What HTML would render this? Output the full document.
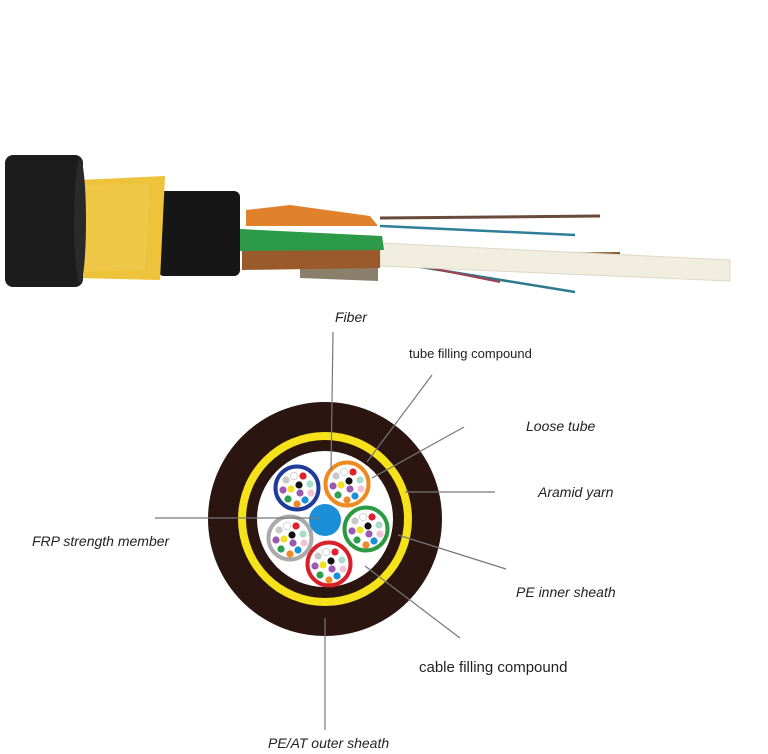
<!DOCTYPE html>
<html><head><style>
html,body{margin:0;padding:0;background:#fff;}
svg{display:block;}
.l{font-family:"Liberation Sans",sans-serif;font-style:italic;font-size:14px;fill:#222;}
.n{font-family:"Liberation Sans",sans-serif;font-size:13px;fill:#222;}
</style></head><body>
<svg width="768" height="754" viewBox="0 0 768 754" xmlns="http://www.w3.org/2000/svg">
<rect width="768" height="754" fill="#fff"/>
<!-- cable photo -->
<line x1="380" y1="218" x2="600" y2="216" stroke="#6a4a3a" stroke-width="3"/>
<line x1="380" y1="226" x2="575" y2="235" stroke="#2d7f9a" stroke-width="2.5"/>
<line x1="380" y1="256" x2="620" y2="254" stroke="#8a5a30" stroke-width="4"/>
<line x1="390" y1="262" x2="575" y2="292" stroke="#2d7a8a" stroke-width="2.5"/>
<line x1="400" y1="262" x2="500" y2="282" stroke="#a04050" stroke-width="2"/>
<polygon points="380,243 730,260 730,281 380,266" fill="#f1eee0" stroke="#ddd8c4"/>
<polygon points="300,266 378,266 378,281 300,278" fill="#8a7f6a"/>
<polygon points="242,250 380,250 380,268 242,270" fill="#9a5a2c"/>
<polygon points="246,210 290,205 370,216 378,226 246,226" fill="#e0822c"/>
<polygon points="240,229 382,236 384,250 240,251" fill="#2c9a48"/>
<rect x="158" y="191" width="82" height="85" rx="6" fill="#161616"/>
<polygon points="80,180 165,176 160,280 75,278" fill="#eec23a"/>
<polygon points="86,185 150,183 145,270 84,272" fill="#f2cc50" opacity=".6"/>
<rect x="5" y="155" width="78" height="132" rx="8" fill="#1c1c1c"/>
<ellipse cx="80" cy="221" rx="6" ry="62" fill="#2a2a2a"/>
<!-- cross section -->
<defs>
<g id="f">
<circle cx="-3" cy="-12" r="3.6" fill="#fff" stroke="#bbb" stroke-width=".6"/>
<circle cx="6" cy="-12" r="3.6" fill="#e0202a"/>
<circle cx="-11" cy="-8" r="3.6" fill="#c9c9c9"/>
<circle cx="13" cy="-4" r="3.6" fill="#a8dccb"/>
<circle cx="2" cy="-3" r="3.6" fill="#111"/>
<circle cx="-14" cy="2" r="3.6" fill="#9a5ab0"/>
<circle cx="-6" cy="1" r="3.6" fill="#f2e020"/>
<circle cx="3" cy="5" r="3.6" fill="#9a5ab0"/>
<circle cx="14" cy="5" r="3.6" fill="#f0c2d4"/>
<circle cx="-9" cy="11" r="3.6" fill="#2ca050"/>
<circle cx="0" cy="16" r="3.6" fill="#f08a28"/>
<circle cx="8" cy="12" r="3.6" fill="#1a90d8"/>
</g>
</defs>
<circle cx="325" cy="519" r="117" fill="#2b1510"/>
<circle cx="325" cy="519" r="87" fill="#f5e21a"/>
<circle cx="325" cy="519" r="79" fill="#2b1510"/>
<circle cx="325" cy="519" r="68" fill="#fff"/>
<circle cx="325" cy="520" r="16" fill="#1a8fd8"/>
<g><circle cx="297" cy="488" r="21.5" fill="#fff" stroke="#1e3a9a" stroke-width="4"/><use href="#f" x="297" y="488"/></g>
<g><circle cx="347" cy="484" r="21.5" fill="#fff" stroke="#ee8a20" stroke-width="4"/><use href="#f" x="347" y="484"/></g>
<g><circle cx="366" cy="529" r="21.5" fill="#fff" stroke="#2c9a40" stroke-width="4"/><use href="#f" x="366" y="529"/></g>
<g><circle cx="329" cy="564" r="21.5" fill="#fff" stroke="#d8202a" stroke-width="4"/><use href="#f" x="329" y="564"/></g>
<g><circle cx="290" cy="538" r="21.5" fill="#fff" stroke="#aaa" stroke-width="4"/><use href="#f" x="290" y="538"/></g>
<!-- leader lines -->
<g stroke="#777" stroke-width="1.2">
<line x1="333" y1="332" x2="331" y2="470"/>
<line x1="432" y1="375" x2="367" y2="462"/>
<line x1="464" y1="427" x2="372" y2="478"/>
<line x1="495" y1="492" x2="405" y2="492"/>
<line x1="506" y1="569" x2="398" y2="535"/>
<line x1="460" y1="638" x2="365" y2="566"/>
<line x1="155" y1="518" x2="320" y2="518"/>
<line x1="325" y1="618" x2="325" y2="730"/>
</g>
<text class="l" x="335" y="322">Fiber</text>
<text class="n" x="409" y="358">tube filling compound</text>
<text class="l" x="526" y="431">Loose tube</text>
<text class="l" x="538" y="497">Aramid yarn</text>
<text class="l" x="32" y="546">FRP strength member</text>
<text class="l" x="516" y="597">PE inner sheath</text>
<text class="n" x="419" y="672" style="font-size:15px">cable filling compound</text>
<text class="l" x="268" y="748">PE/AT outer sheath</text>
</svg>
</body></html>
